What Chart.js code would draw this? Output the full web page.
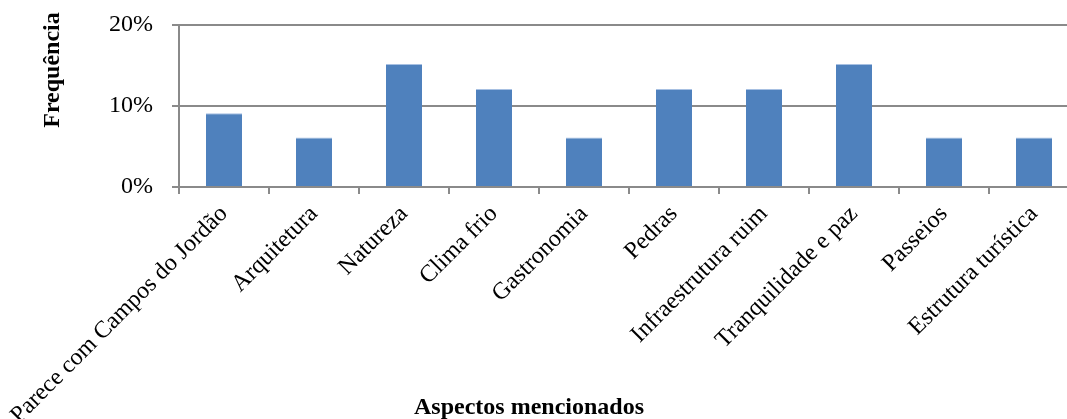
<!DOCTYPE html>
<html>
<head>
<meta charset="utf-8">
<script src="https://cdn.jsdelivr.net/npm/chart.js@4/dist/chart.umd.min.js"></script>
<style>
  html, body { margin: 0; padding: 0; background: #fff; overflow: hidden; }
  #wrap { width: 1080px; height: 419px; }
</style>
</head>
<body>
<div id="wrap"><canvas id="c" width="1080" height="419"></canvas></div>
<script>
const categories = [
  'Parece com Campos do Jordão', 'Arquitetura', 'Natureza', 'Clima frio',
  'Gastronomia', 'Pedras', 'Infraestrutura ruim', 'Tranquilidade e paz',
  'Passeios', 'Estrutura turística'
];
const frequencia = [9.1, 6.1, 15.2, 12.1, 6.1, 12.1, 12.1, 15.2, 6.1, 6.1];
const yTicks = [0, 10, 20];
const yTitle = 'Frequência';
const xTitle = 'Aspectos mencionados';

const serif = '"Liberation Serif", "Times New Roman", serif';
const gridGrey = '#8a8a8a';

// Axis titles placed relative to the canvas
const axisTitles = {
  id: 'axisTitles',
  afterDraw(chart) {
    const ctx = chart.ctx;
    ctx.save();
    ctx.fillStyle = '#000';
    ctx.font = 'bold 24px ' + serif;
    ctx.textAlign = 'center';
    ctx.textBaseline = 'middle';
    ctx.fillText(xTitle, 529, 408);
    ctx.translate(53, 70);
    ctx.rotate(-Math.PI / 2);
    ctx.fillText(yTitle, 0, 0);
    ctx.restore();
  }
};

new Chart(document.getElementById('c'), {
  type: 'bar',
  data: {
    labels: categories,
    datasets: [{
      data: frequencia,
      backgroundColor: '#4F81BD',
      borderColor: '#A7C0E2',
      borderWidth: { top: 1, left: 0, right: 0, bottom: 0 },
      borderSkipped: false,
      barPercentage: 0.4,
      categoryPercentage: 1.0
    }]
  },
  options: {
    responsive: false,
    animation: false,
    layout: { padding: { top: 25, left: 0, right: 1, bottom: 0 } },
    plugins: { legend: { display: false }, tooltip: { enabled: false } },
    scales: {
      x: {
        offset: true,
        grid: {
          display: true, drawOnChartArea: false, drawTicks: true,
          tickLength: 7, color: gridGrey, lineWidth: 2, offset: true
        },
        border: { display: true, color: gridGrey, width: 2 },
        ticks: {
          font: { family: serif, size: 24 }, color: '#000',
          minRotation: 45, maxRotation: 45, padding: 6, autoSkip: false
        },
        afterFit(scale) {
          scale.height = 232;
          scale.paddingLeft = 0;
          scale.paddingRight = 0;
        }
      },
      y: {
        min: 0, max: 20,
        afterBuildTicks(scale) { scale.ticks = yTicks.map(v => ({ value: v })); },
        grid: { color: gridGrey, lineWidth: 2, tickLength: 7, drawTicks: true },
        border: { display: true, color: gridGrey, width: 2 },
        ticks: {
          font: { family: serif, size: 24 }, color: '#000', padding: 19,
          callback: v => v + '%'
        },
        afterFit(scale) {
          scale.width = 179;
          scale.paddingTop = 0;
          scale.paddingBottom = 0;
        }
      }
    }
  },
  plugins: [axisTitles]
});
</script>
</body>
</html>
